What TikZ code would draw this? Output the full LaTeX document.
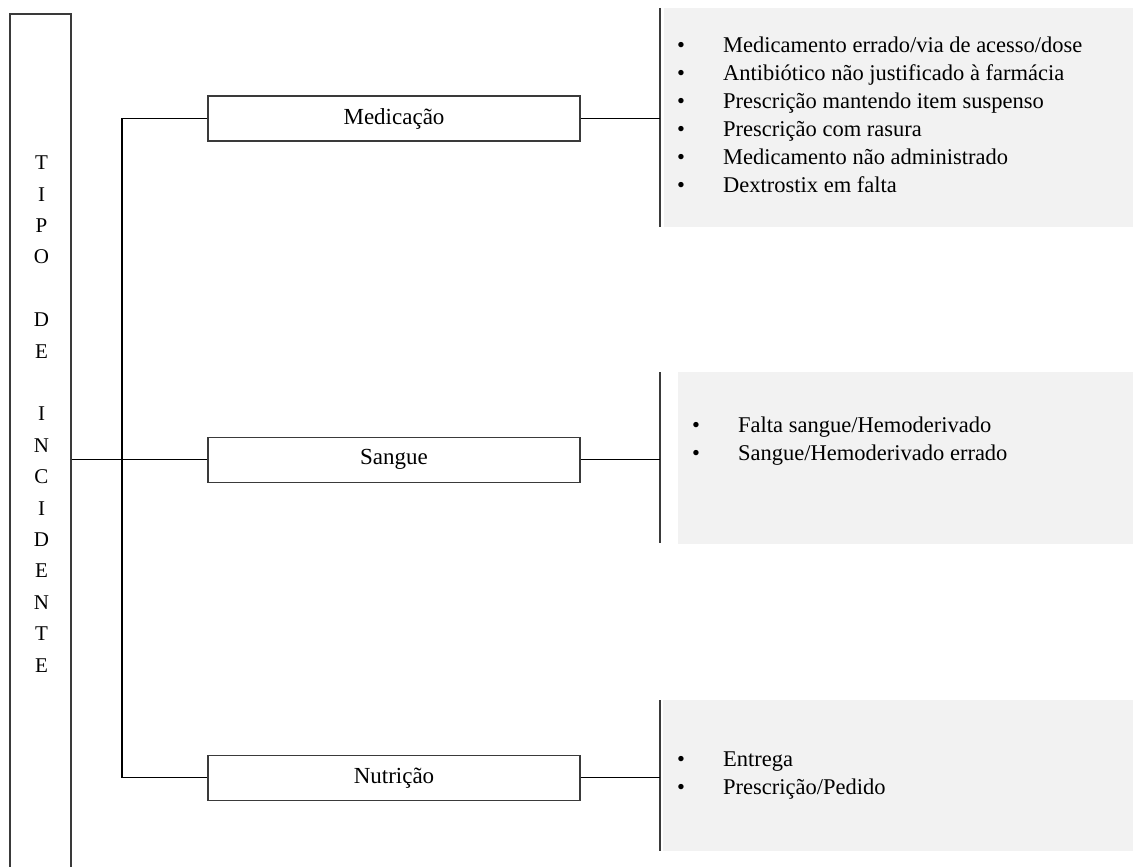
\documentclass[tikz,border=0pt]{standalone}
\usepackage{fontspec}
\setmainfont{Liberation Serif}
\usepackage{xcolor}
\definecolor{PanelGrey}{HTML}{F2F2F2}
\definecolor{LineGrey}{HTML}{3A3A3A}
\usetikzlibrary{positioning, calc}
\tikzstyle{catbox} = [rectangle, draw=LineGrey, fill=white, minimum width=372pt, minimum height=45pt, line width=1.1pt, text centered, font=\fontsize{23}{28}\selectfont]
\tikzstyle{panel} = [rectangle, fill=PanelGrey, inner sep=0pt, anchor=north west]
\tikzstyle{itemlist} = [align=left, anchor=west, inner sep=0pt, font=\fontsize{22.5}{28}\selectfont]
\tikzstyle{bar} = [color=LineGrey, line width=1.4pt]
\tikzstyle{line} = [color=black, line width=1.1pt]
\newcommand{\bul}{\makebox[46pt][l]{\textbullet}}

\begin{document}
\begin{tikzpicture}[x=1pt, y=-1pt]
        \useasboundingbox (0,0) rectangle (1133,867);
        \clip (0,0) rectangle (1133,867);

        % left column
        \node [draw=LineGrey, line width=1.1pt, minimum width=61pt, minimum height=886pt, inner sep=0pt] (tipo) at (40.5,457) {};
        \node [align=center, inner sep=0pt, font=\fontsize{21}{31.4}\selectfont] (tipotext) at (41.5,414) {T\\I\\P\\O\\[31.4pt]D\\E\\[31.4pt]I\\N\\C\\I\\D\\E\\N\\T\\E};

        % categories
        \node [catbox] (med) at (394,118.5) {Medica\c{c}\~ao};
        \node [catbox, below=295pt of med] (sang) {Sangue};
        \node [catbox, below=272pt of sang] (nutr) {Nutri\c{c}\~ao};

        % grey panels
        \node [panel, minimum width=480pt, minimum height=219pt] (medpanel) at (664,8) {};
        \node [panel, minimum width=465pt, minimum height=172pt] (sangpanel) at (678,372) {};
        \node [panel, minimum width=483pt, minimum height=151pt] (nutrpanel) at (663,700) {};

        \coordinate (medbar1) at (660,8);
        \coordinate (medbar2) at (660,227);
        \coordinate (sangbar1) at (660,372);
        \coordinate (sangbar2) at (660,543);
        \coordinate (nutrbar1) at (660,700);
        \coordinate (nutrbar2) at (660,851);
        \draw [bar] (medbar1) -- (medbar2);
        \draw [bar] (sangbar1) -- (sangbar2);
        \draw [bar] (nutrbar1) -- (nutrbar2);

        % lists
        \node [itemlist] (medlist) at (677,115) {\bul Medicamento errado/via de acesso/dose\\
            \bul Antibi\'otico n\~ao justificado \`a farm\'acia\\
            \bul Prescri\c{c}\~ao mantendo item suspenso\\
            \bul Prescri\c{c}\~ao com rasura\\
            \bul Medicamento n\~ao administrado\\
            \bul Dextrostix em falta};
        \node [itemlist] (sanglist) at (692,441.5) {\bul Falta sangue/Hemoderivado\\
            \bul Sangue/Hemoderivado errado};
        \node [itemlist] (nutrlist) at (677,776) {\bul Entrega\\
            \bul Prescri\c{c}\~ao/Pedido};

        % connectors
        \coordinate (trunk) at (122,0);
        \draw [line] (med.west) -- (med.west -| trunk) -- (nutr.west -| trunk) -- (nutr.west);
        \draw [line] (tipo.east |- sang.west) -- (sang.west);
        \draw [line] (med.east) -- (med.east -| medbar1);
        \draw [line] (sang.east) -- (sang.east -| sangbar1);
        \draw [line] (nutr.east) -- (nutr.east -| nutrbar1);
    \end{tikzpicture}
\end{document}
